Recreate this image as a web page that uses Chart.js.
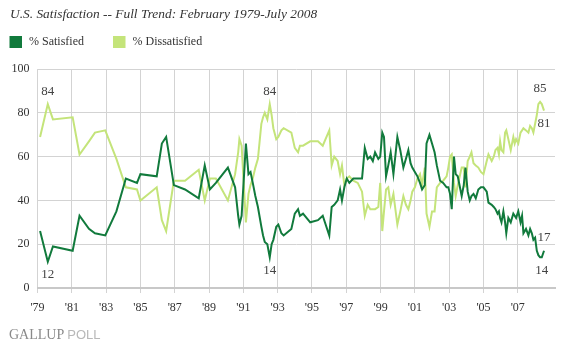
<!DOCTYPE html>
<html><head><meta charset="utf-8">
<script src="https://cdn.jsdelivr.net/npm/chart.js@4.4.0/dist/chart.umd.min.js"></script>
<style>html,body{margin:0;padding:0;background:#fff;}#wrap{width:564px;height:350px;}</style>
</head><body><div id="wrap"><canvas id="c" width="564" height="350"></canvas></div>
<script>
// ---- DATA (decimal year of each poll, % satisfied, % dissatisfied) ----
const pollDates = [
1979.15,1979.60,1979.90,1981.05,1981.45,1982.00,1982.35,1982.95,1983.60,1984.15,
1984.80,1985.00,1985.95,1986.25,1986.50,1986.95,1987.60,1988.40,1988.75,1989.05,
1989.40,1990.10,1990.52,1990.70,1990.77,1990.90,1991.15,1991.30,1991.42,1991.55,
1991.70,1991.85,1992.05,1992.15,1992.25,1992.40,1992.54,1992.65,1992.75,1992.92,
1993.04,1993.22,1993.35,1993.80,1994.00,1994.19,1994.30,1994.48,1994.90,1995.35,
1995.63,1996.01,1996.15,1996.30,1996.50,1996.64,1996.75,1996.89,1997.03,1997.18,
1997.41,1997.67,1997.92,1998.08,1998.25,1998.40,1998.55,1998.68,1998.87,1998.98,
1999.10,1999.20,1999.32,1999.45,1999.59,1999.75,1999.98,2000.15,2000.33,2000.48,
2000.62,2000.75,2000.85,2001.00,2001.15,2001.30,2001.42,2001.58,2001.68,2001.85,
2002.00,2002.15,2002.28,2002.47,2002.65,2002.85,2002.95,2003.05,2003.15,2003.28,
2003.38,2003.50,2003.73,2003.85,2003.95,2004.08,2004.20,2004.30,2004.42,2004.55,
2004.70,2004.85,2005.00,2005.19,2005.29,2005.48,2005.60,2005.70,2005.82,2005.90,
2005.97,2006.05,2006.16,2006.26,2006.33,2006.45,2006.59,2006.74,2006.82,2006.90,
2007.03,2007.16,2007.25,2007.33,2007.48,2007.62,2007.72,2007.82,2007.91,2008.01,
2008.11,2008.20,2008.30,2008.40,2008.53
];
const satisfied = [
26,12,19,17,33,27,25,24,35,50,
48,52,51,66,69,47,45,41,56,45,
48,55,46,33,29,33,66,52,53,48,
42,37,28,24,21,20,14,20,22,28,
29,25,24,27,34,36,33,34,30,31,
33,24,37,38,40,45,40,46,50,48,
50,50,50,64,59,60,58,62,59,60,
71,69,51,56,62,52,69,63,55,59,
63,57,55,53,51,48,45,47,66,70,
66,62,56,49,48,46,46,43,36,60,
52,51,42,47,55,44,40,42,43,41,
45,46,46,44,39,38,37,36,34,35,
32,30,35,30,25,32,30,34,33,32,
35,30,33,25,27,24,27,25,22,23,
17,15,14,14,17
];
const dissatisfied = [
69,84,77,78,61,67,71,72,59,46,
45,40,46,31,26,49,49,54,40,50,
50,40,52,62,68,65,30,43,47,50,
55,59,75,78,80,77,84,79,73,68,
69,72,73,71,64,62,65,65,67,67,
65,72,56,60,58,52,56,47,50,51,
49,48,44,33,38,36,36,36,37,48,
26,35,45,46,38,43,29,35,42,38,
36,40,44,46,50,52,47,55,34,28,
35,35,46,48,49,51,55,60,61,48,
42,47,55,55,46,58,60,62,57,56,
55,53,52,58,61,58,60,63,64,61,
67,63,62,71,72,68,63,69,66,68,
66,71,72,73,72,71,74,73,71,75,
79,84,85,84,81
];
const tickYears = [1979,1981,1983,1985,1987,1989,1991,1993,1995,1997,1999,2001,2003,2005,2007];
const tickLabels = ["'79","'81","'83","'85","'87","'89","'91","'93","'95","'97","'99","'01","'03","'05","'07"];
const seriesNames = ['% Satisfied', '% Dissatisfied'];
// callouts: which series / poll date gets its value printed
const callouts = [
  {series: 1, date: 1979.60, above: true},
  {series: 0, date: 1979.60, above: false},
  {series: 1, date: 1992.54, above: true},
  {series: 0, date: 1992.54, above: false},
  {series: 1, date: 2008.30, above: true},
  {series: 1, date: 2008.53, above: false},
  {series: 0, date: 2008.53, above: true},
  {series: 0, date: 2008.40, above: false}
];

// ---- STYLE ----
const DARK = '#117a3c';
const LIGHT = '#c4e47a';
const SERIF = "'Liberation Serif', 'DejaVu Serif', serif";
const GRID = '#d3d3d3';

const legendPlugin = {
  id: 'customLegend',
  afterDraw(chart) {
    const c = chart.ctx;
    c.save();
    c.font = '12px ' + SERIF;
    c.textBaseline = 'middle';
    c.textAlign = 'left';
    const xs = [9.5, 113];
    chart.data.datasets.forEach((ds, i) => {
      c.fillStyle = ds.borderColor;
      c.fillRect(xs[i], 36, 12.5, 12);
      c.fillStyle = '#333';
      c.fillText(ds.label, xs[i] + 19.5, 42);
    });
    c.restore();
  }
};

const calloutPlugin = {
  id: 'callouts',
  afterDatasetsDraw(chart) {
    const c = chart.ctx;
    c.save();
    c.font = '13px ' + SERIF;
    c.fillStyle = '#444';
    c.textAlign = 'center';
    c.textBaseline = 'middle';
    callouts.forEach(o => {
      const i = pollDates.indexOf(o.date);
      const pt = chart.getDatasetMeta(o.series).data[i];
      const v = chart.data.datasets[o.series].data[i].y;
      c.fillText(String(v), pt.x, pt.y + (o.above ? -13 : 13));
    });
    c.restore();
  }
};

const brandPlugin = {
  id: 'brand',
  afterDraw(chart) {
    const c = chart.ctx;
    c.save();
    c.textBaseline = 'middle';
    c.textAlign = 'left';
    c.font = '14px ' + SERIF;
    c.fillStyle = '#8a8a8a';
    c.fillText('GALLUP', 9, 335);
    const w = c.measureText('GALLUP').width;
    c.font = '13px "Liberation Sans", sans-serif';
    c.fillStyle = '#b8b8b8';
    c.fillText('POLL', 9 + w + 3, 335);
    c.restore();
  }
};

new Chart(document.getElementById('c'), {
  type: 'line',
  data: {
    datasets: [
      {label: seriesNames[0], data: pollDates.map((d, i) => ({x: d, y: satisfied[i]})),
       borderColor: DARK, backgroundColor: DARK, borderWidth: 2, pointRadius: 0, tension: 0, fill: false},
      {label: seriesNames[1], data: pollDates.map((d, i) => ({x: d, y: dissatisfied[i]})),
       borderColor: LIGHT, backgroundColor: LIGHT, borderWidth: 2, pointRadius: 0, tension: 0, fill: false}
    ]
  },
  options: {
    responsive: false,
    animation: false,
    layout: {padding: {left: 10, right: 9, top: 0, bottom: 32}},
    plugins: {
      title: {display: true, text: 'U.S. Satisfaction -- Full Trend: February 1979-July 2008', align: 'start',
              font: {family: SERIF, size: 13.4, style: 'italic', weight: 'normal'}, color: '#333',
              padding: {top: 6, bottom: 47}},
      legend: {display: false},
      tooltip: {enabled: false}
    },
    scales: {
      x: {
        type: 'linear', min: 1979, max: 2009.17,
        afterBuildTicks: s => { s.ticks = tickYears.map(v => ({value: v})); },
        afterFit: s => { s.height = 30; },
        ticks: {callback: v => { const k = tickYears.indexOf(v); return k >= 0 ? tickLabels[k] : ''; },
                font: {family: SERIF, size: 12}, color: '#333', padding: 8, maxRotation: 0, autoSkip: false},
        grid: {color: GRID, lineWidth: 1, tickLength: 5, drawTicks: true},
        border: {display: true, color: '#c8c8c8', width: 2}
      },
      y: {
        min: 0, max: 100,
        afterFit: s => { s.width = 27.5; },
        ticks: {stepSize: 20, font: {family: SERIF, size: 12}, color: '#333', padding: 8},
        grid: {color: GRID, lineWidth: 1, drawTicks: false},
        border: {display: false}
      }
    }
  },
  plugins: [legendPlugin, calloutPlugin, brandPlugin]
});
</script></body></html>
